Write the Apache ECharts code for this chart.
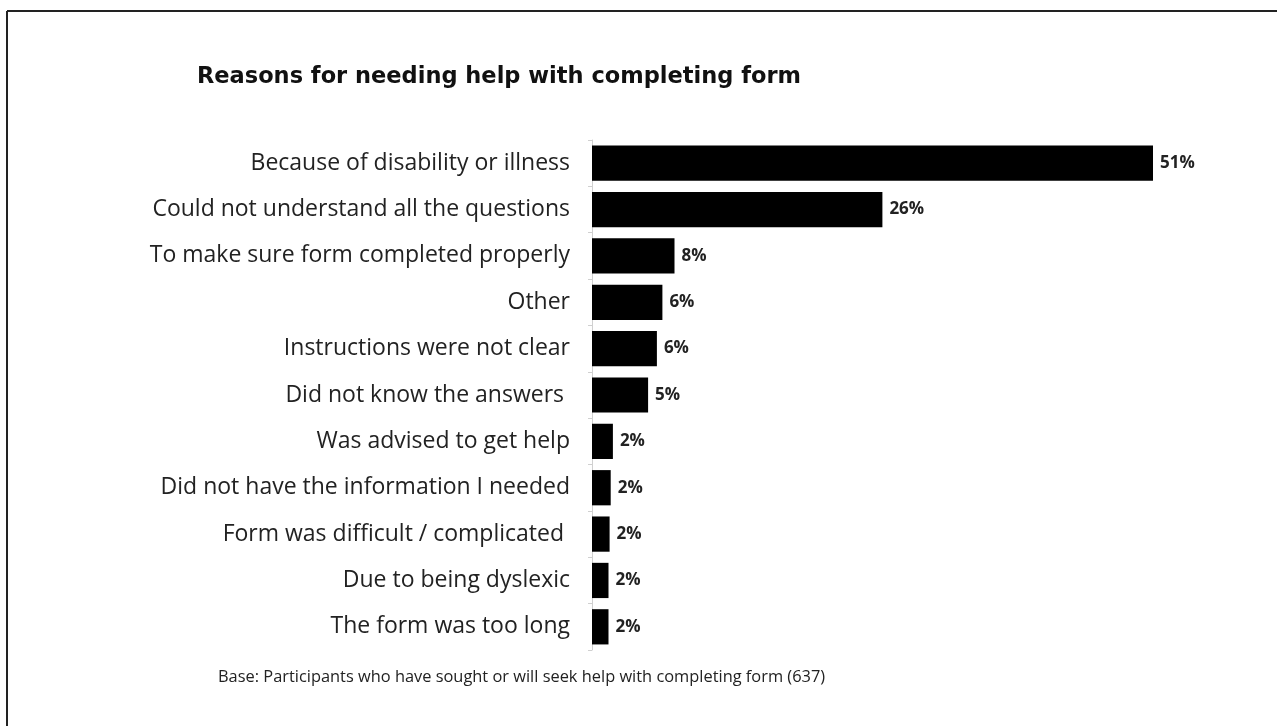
<!DOCTYPE html>
<html><head><meta charset="utf-8">
<script src="https://cdn.jsdelivr.net/npm/echarts@6/dist/echarts.min.js"></script>
<style>html,body{margin:0;padding:0;background:#fff}#c{width:1277px;height:726px}</style>
</head><body><div id="c"></div>
<script>
const categories = [
  "Because of disability or illness",
  "Could not understand all the questions",
  "To make sure form completed properly",
  "Other",
  "Instructions were not clear",
  "Did not know the answers ",
  "Was advised to get help",
  "Did not have the information I needed",
  "Form was difficult / complicated ",
  "Due to being dyslexic",
  "The form was too long"
];
const values = [51, 26.4, 7.5, 6.4, 5.9, 5.1, 1.9, 1.7, 1.6, 1.5, 1.5];
const valueLabels = ["51%","26%","8%","6%","6%","5%","2%","2%","2%","2%","2%"];
const titleText = "Reasons for needing help with completing form";
const baseText = "Base: Participants who have sought or will seek help with completing form (637)";

const chart = echarts.init(document.getElementById('c'), null, {renderer:'canvas'});
chart.setOption({
  backgroundColor:'#fff',
  animation:false,
  title:{text:titleText,left:192,top:61,textStyle:{fontFamily:'DejaVu Sans',fontWeight:'bold',fontSize:22.5,color:'#111'}},
  graphic:[
    {type:'line',shape:{x1:7,y1:11,x2:1277,y2:11},style:{stroke:'#222',lineWidth:2}},
    {type:'line',shape:{x1:7,y1:11,x2:7,y2:726},style:{stroke:'#222',lineWidth:2}},
    {type:'text',left:218,top:669,style:{text:baseText,font:'16.4px "Open Sans"',fill:'#222'}}
  ],
  grid:{left:592,width:561,top:140,height:510},
  xAxis:{type:'value',min:0,max:51,show:false},
  yAxis:{type:'category',data:categories,inverse:true,
    axisLine:{show:true,lineStyle:{color:'#d0d0d0',width:1}},
    axisTick:{show:true,length:4,lineStyle:{color:'#d0d0d0'}},
    axisLabel:{margin:22,fontFamily:'Open Sans',fontSize:23,color:'#222'}},
  series:[{type:'bar',data:values,barCategoryGap:'24%',itemStyle:{color:'#000'},
    label:{show:true,position:'right',distance:7,formatter:p=>valueLabels[p.dataIndex],
      fontFamily:'Open Sans',fontWeight:'bold',fontSize:17,color:'#222'}}]
});
</script></body></html>
